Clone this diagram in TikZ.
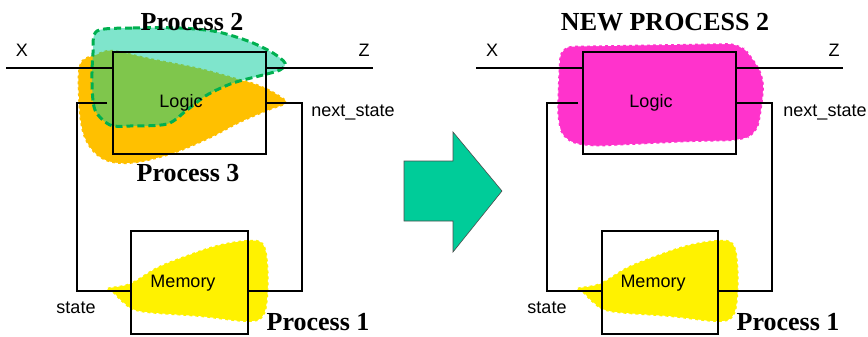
\documentclass[tikz,border=0pt]{standalone}
\usepackage{fontspec}
\setmainfont{Liberation Serif}
\setsansfont{Liberation Sans}
\definecolor{arrowteal}{RGB}{0,204,153}
\definecolor{dashgreen}{RGB}{0,176,80}
\definecolor{procorange}{RGB}{255,192,0}
\definecolor{procpink}{RGB}{255,51,204}
\tikzset{
    block/.style={draw, line width=2pt, inner sep=0pt},
    sig/.style={font=\sffamily\fontsize{18}{20}\selectfont, inner sep=0pt},
    proc/.style={font=\bfseries\fontsize{26}{28}\selectfont, inner sep=0pt},
    blobedge/.style={draw=white, dash pattern=on 3pt off 3pt, line width=1.5pt},
}
\begin{document}
\begin{tikzpicture}[x=1pt, y=-1pt, line width=2pt]
    \useasboundingbox (0,0) rectangle (868,337);

    % Process 3 (orange) under Process 2
    \fill[procorange] plot[smooth cycle, tension=0.6] coordinates {
        (80,63) (96,54) (113,50) (150,58) (200,68) (240,79) (257,84)
        (276,93) (287,103) (268,111) (240,123) (207,140) (167,156)
        (127,164) (100,158) (83,135) (78,95)};
    \draw[blobedge] plot[smooth cycle, tension=0.6] coordinates {
        (80,63) (96,54) (113,50) (150,58) (200,68) (240,79) (257,84)
        (276,93) (287,103) (268,111) (240,123) (207,140) (167,156)
        (127,164) (100,158) (83,135) (78,95)};

    % Process 2 (green, see-through, dashed outline)
    \filldraw[fill=arrowteal, fill opacity=0.5, draw=dashgreen, line width=3pt,
        dash pattern=on 7pt off 4pt] plot[smooth cycle, tension=0.5] coordinates {
        (97,31) (133,28) (180,28) (213,31) (233,36) (253,43) (273,53)
        (285,63) (280,70) (263,75) (233,83) (207,95) (187,110) (167,124)
        (130,126) (110,125) (95,110) (92,83) (93,53)};

    % Process 1 (yellow), both sides
    \foreach \dx in {0,470}{
        \begin{scope}[xshift=\dx]
            \fill[yellow] plot[smooth cycle, tension=0.6] coordinates {
                (107,288) (130,283) (157,267) (187,255) (217,245) (247,240)
                (263,243) (268,263) (268,297) (263,317) (247,322) (200,317)
                (140,312) (123,303) (113,293)};
            \draw[blobedge] plot[smooth cycle, tension=0.6] coordinates {
                (107,288) (130,283) (157,267) (187,255) (217,245) (247,240)
                (263,243) (268,263) (268,297) (263,317) (247,322) (200,317)
                (140,312) (123,303) (113,293)};
        \end{scope}
    }

    % New process 2 (pink)
    \filldraw[fill=procpink, blobedge, rounded corners=12pt]
        (560,46) -- (740,43) -- (752,56) -- (765,78) -- (762,110) -- (757,135)
        -- (740,141) -- (690,142) -- (590,147) -- (563,141) -- (557,120)
        -- (558,80) -- cycle;

    % Arrow between the two circuits
    \filldraw[fill=arrowteal, draw=black!70, line width=0.6pt]
        (404,161) -- (453,161) -- (453,132) -- (502,191) -- (453,252)
        -- (453,221) -- (404,221) -- cycle;

    % Left circuit blocks
    \node[block, minimum width=153pt, minimum height=102pt] (logicL) at (189.5,103) {};
    \node[block, minimum width=117pt, minimum height=103pt] (memL) at (189.5,282.5) {};
    \node[sig] (logictxtL) at (181,103) {Logic};
    \node[sig] (memtxtL) at (183,283) {Memory};

    % Left circuit wires
    \coordinate (xinL) at (6,68);
    \coordinate (zoutL) at (373,68);
    \coordinate (fbL) at (107,103);
    \coordinate (stL) at (77,291);
    \coordinate (nsL) at (302,291);
    \draw (xinL) -- (xinL -| logicL.west);
    \draw (logicL.east |- zoutL) -- (zoutL);
    \draw (fbL) -| (stL) -- (stL -| memL.west);
    \draw (logicL.east) -| (nsL) -- (nsL -| memL.east);

    % Right circuit blocks
    \node[block, minimum width=153pt, minimum height=102pt] (logicR) at (659.5,103) {};
    \node[block, minimum width=116pt, minimum height=103pt] (memR) at (660,282.5) {};
    \node[sig] (logictxtR) at (651,103) {Logic};
    \node[sig] (memtxtR) at (653,283) {Memory};

    % Right circuit wires
    \coordinate (xinR) at (476,68);
    \coordinate (zoutR) at (843,68);
    \coordinate (fbR) at (578,103);
    \coordinate (stR) at (547,291);
    \coordinate (nsR) at (772,291);
    \draw (xinR) -- (xinR -| logicR.west);
    \draw (logicR.east |- zoutR) -- (zoutR);
    \draw (fbR) -| (stR) -- (stR -| memR.west);
    \draw (logicR.east) -| (nsR) -- (nsR -| memR.east);

    % Signal names
    \node[sig] (xL) at (22,50) {X};
    \node[sig] (zL) at (364,50) {Z};
    \node[sig] (nextL) at (353,112) {next\_state};
    \node[sig] (stateL) at (76,308) {state};
    \node[sig] (xR) at (492,50) {X};
    \node[sig] (zR) at (834,50) {Z};
    \node[sig] (nextR) at (825,112) {next\_state};
    \node[sig] (stateR) at (547,308) {state};

    % Process names
    \node[proc] (p2L) at (192,22) {Process 2};
    \node[proc] (p3L) at (188,173) {Process 3};
    \node[proc] (p1L) at (318,322) {Process 1};
    \node[proc] (p2R) at (665,22) {NEW PROCESS 2};
    \node[proc] (p1R) at (788,322) {Process 1};
\end{tikzpicture}
\end{document}
